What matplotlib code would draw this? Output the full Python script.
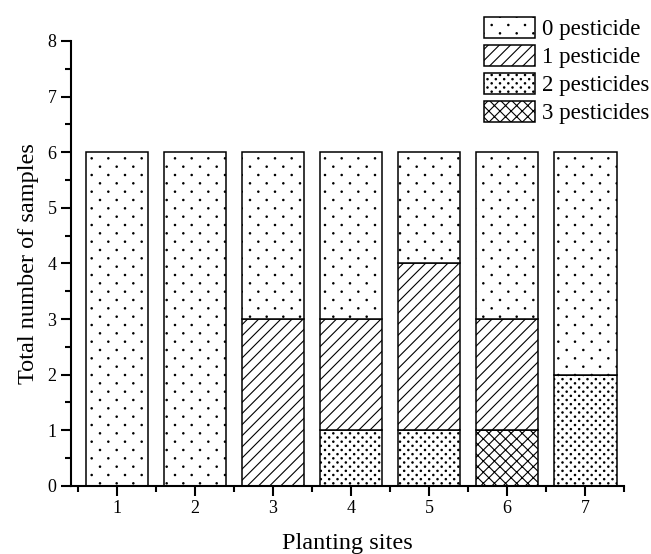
import numpy as np
import matplotlib.pyplot as plt
import matplotlib.hatch as mhatch
from matplotlib.path import Path
from matplotlib.ticker import MultipleLocator, FixedLocator

plt.rcParams['font.family'] = ['Liberation Serif', 'DejaVu Serif']
plt.rcParams['hatch.linewidth'] = 0.8

# samples per planting site, split by number of pesticides detected
sites = [1, 2, 3, 4, 5, 6, 7]
zero_pest = [6, 6, 3, 3, 2, 3, 4]
one_pest = [0, 0, 3, 2, 3, 2, 0]
two_pest = [0, 0, 0, 1, 1, 0, 2]
three_pest = [0, 0, 0, 0, 0, 1, 0]

series = [
    ("0 pesticide", zero_pest, "."),
    ("1 pesticide", one_pest, "///"),
    ("2 pesticides", two_pest, ".."),
    ("3 pesticides", three_pest, "xxx"),
]


#small staggered dots like the original figure (rows twice as dense as columns)
class StaggeredDots(mhatch.HatchPatternBase):
    radius = 0.007

    def __init__(self, hatch, density):
        self.n = hatch.count('.') * density
        circle = Path.unit_circle()
        self.shape_vertices = circle.vertices
        self.shape_codes = circle.codes
        self.num_shapes = (2 * self.n + 1) * (self.n + 1) if self.n else 0
        self.num_vertices = self.num_shapes * len(self.shape_vertices)

    def set_vertices_and_codes(self, vertices, codes):
        step = 1.0 / self.n
        shape = self.shape_vertices * self.radius
        parts = []
        for row in range(2 * self.n + 1):
            shift = 0 if row % 2 == 0 else step / 2
            for col in range(self.n + 1):
                parts.append(shape + [col * step + shift, row * step / 2])
        vertices[:] = np.concatenate(parts)
        codes[:] = np.tile(self.shape_codes, self.num_shapes)


mhatch._hatch_types = [StaggeredDots if t is mhatch.SmallFilledCircles else t
                       for t in mhatch._hatch_types]

fig = plt.figure(figsize=(6.51, 5.54), dpi=100)
ax = fig.add_axes([0.109, 0.123, 0.85, 0.803])

x = np.array(sites)
bottom = np.zeros(len(sites))
handles = {}
# stacking order from bottom: 3, 2, 1, 0 pesticides
for i in [3, 2, 1, 0]:
    label, vals, hatch = series[i]
    vals = np.array(vals, dtype=float)
    b = ax.bar(x, vals, width=0.8, bottom=bottom, color='white',
               edgecolor='black', linewidth=1.1, hatch=hatch, label=label)
    handles[i] = b
    bottom += vals

ax.set_xlim(0.41, 7.5)
ax.set_ylim(0, 8)
ax.set_xticks(sites)
ax.xaxis.set_minor_locator(FixedLocator(np.arange(0.5, 8, 1)))
ax.yaxis.set_major_locator(MultipleLocator(1))
ax.yaxis.set_minor_locator(MultipleLocator(0.5))

for s in ['top', 'right']:
    ax.spines[s].set_visible(False)
for s in ['left', 'bottom']:
    ax.spines[s].set_linewidth(1.5)
ax.tick_params(which='major', direction='out', length=7, width=1.5, labelsize=13)
ax.tick_params(which='minor', direction='out', length=4, width=1.5)

ax.set_xlabel("Planting sites", fontsize=17.5, labelpad=11)
ax.set_ylabel("Total number of samples", fontsize=17.5, labelpad=6)

leg = fig.legend([handles[i] for i in range(4)], [s[0] for s in series],
                 loc='upper right', bbox_to_anchor=(0.997, 0.97), frameon=False,
                 fontsize=16.5, handlelength=2.2, handleheight=1.05,
                 labelspacing=0.2, handletextpad=0.3, borderaxespad=0,
                 borderpad=0)

plt.savefig("out.png", dpi=100)
